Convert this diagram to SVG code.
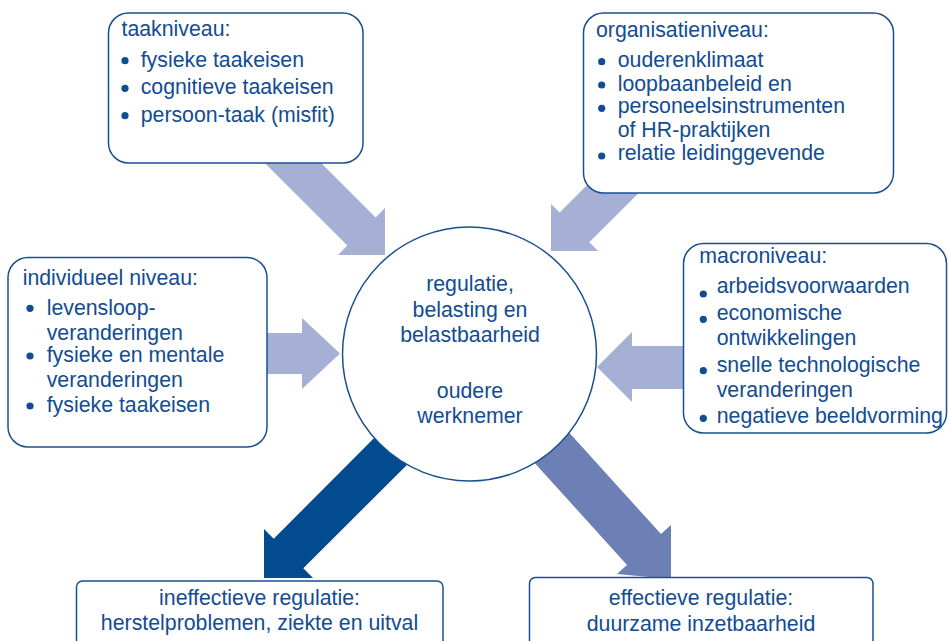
<svg xmlns="http://www.w3.org/2000/svg" width="948" height="641" viewBox="0 0 948 641">
<style>
.box{fill:#fff;stroke:#1a4f92;stroke-width:1.5}
.t{font-family:"Liberation Sans",Arial,Helvetica,sans-serif;font-size:21.3px;fill:#124c92}
.c{text-anchor:middle}
.b{fill:#124c92}
.light{fill:#a6afd4}
.dark{fill:#024b8e}
.mid{fill:#6c80b6}
</style>
<rect width="948" height="641" fill="#fff"/>
<g id="connectors">
<polygon class="light" points="269.6,111.4 375.6,217.4 385,208 385,255 338,255 347.4,245.6 241.4,139.6"/>
<polygon class="light" points="695.4,136.4 589.3,242.3 598,251 551,251 551,204 559.6,212.6 665.6,106.6"/>
<polygon class="light" points="240,333 302,333 302,318 340,353.5 302,389 302,374 240,374"/>
<polygon class="light" points="710,346 632,346 632,332 597,367 632,402 632,389 710,389"/>
<polygon class="dark" points="409.4,462.4 303.3,568.3 313,578 264,578 264,529 273.7,538.7 379.6,432.6"/>
<polygon class="mid" points="560.5,423.1 661,534.1 671,525 671,579 617,574 627,564.9 526.5,453.9"/>
</g>
<g id="taakniveau">
<rect class="box" x="108.5" y="13" width="254.5" height="150" rx="20"/>
<text class="t" x="121.5" y="36">taakniveau:</text>
<circle class="b" cx="125" cy="60.7" r="3.6"/>
<circle class="b" cx="125" cy="88.3" r="3.6"/>
<circle class="b" cx="125" cy="115.7" r="3.6"/>
<text class="t" x="140.7" y="66.7">fysieke taakeisen</text>
<text class="t" x="140.7" y="94.3">cognitieve taakeisen</text>
<text class="t" x="140.7" y="121.7">persoon-taak (misfit)</text>
</g>
<g id="organisatieniveau">
<rect class="box" x="583.5" y="13" width="310" height="180" rx="20"/>
<text class="t" x="596" y="37.3">organisatieniveau:</text>
<circle class="b" cx="601.7" cy="61.7" r="3.6"/>
<circle class="b" cx="601.7" cy="85" r="3.6"/>
<circle class="b" cx="601.7" cy="108.3" r="3.6"/>
<circle class="b" cx="601.7" cy="156" r="3.6"/>
<text class="t" x="617.7" y="66.7">ouderenklimaat</text>
<text class="t" x="617.7" y="90.7">loopbaanbeleid en</text>
<text class="t" x="617.7" y="113.3">personeelsinstrumenten</text>
<text class="t" x="617.7" y="137.3">of HR-praktijken</text>
<text class="t" x="617.7" y="160">relatie leidinggevende</text>
</g>
<g id="individueel">
<rect class="box" x="8" y="257.5" width="259" height="189.5" rx="20"/>
<text class="t" x="22.7" y="285">individueel niveau:</text>
<circle class="b" cx="30" cy="308.3" r="3.6"/>
<circle class="b" cx="30" cy="356" r="3.6"/>
<circle class="b" cx="30" cy="406" r="3.6"/>
<text class="t" x="46.7" y="315">levensloop-</text>
<text class="t" x="46.7" y="339.5">veranderingen</text>
<text class="t" x="46.7" y="362">fysieke en mentale</text>
<text class="t" x="46.7" y="387.3">veranderingen</text>
<text class="t" x="46.7" y="412">fysieke taakeisen</text>
</g>
<g id="macroniveau">
<rect class="box" x="683.5" y="243.5" width="263" height="189.5" rx="20"/>
<text class="t" x="699.3" y="263.3">macroniveau:</text>
<circle class="b" cx="703.3" cy="294" r="3.6"/>
<circle class="b" cx="703.3" cy="319.3" r="3.6"/>
<circle class="b" cx="703.3" cy="370.7" r="3.6"/>
<circle class="b" cx="703.3" cy="418.3" r="3.6"/>
<text class="t" x="716.7" y="293.3">arbeidsvoorwaarden</text>
<text class="t" x="716.7" y="320">economische</text>
<text class="t" x="716.7" y="345">ontwikkelingen</text>
<text class="t" x="716.7" y="371.7">snelle technologische</text>
<text class="t" x="716.7" y="396.7">veranderingen</text>
<text class="t" x="716.7" y="423.3">negatieve beeldvorming</text>
</g>
<g id="centrum">
<circle cx="469.5" cy="354" r="127" fill="#fff" stroke="#1a4f92" stroke-width="1.5"/>
<text class="t c" x="470" y="291">regulatie,</text>
<text class="t c" x="470" y="316.5">belasting en</text>
<text class="t c" x="470" y="341.5">belastbaarheid</text>
<text class="t c" x="470" y="398.3">oudere</text>
<text class="t c" x="470" y="423.3">werknemer</text>
</g>
<g id="ineffectief">
<rect class="box" x="76.5" y="581" width="366.5" height="75" rx="6"/>
<text class="t c" x="259.5" y="605">ineffectieve regulatie:</text>
<text class="t c" x="259.5" y="630">herstelproblemen, ziekte en uitval</text>
</g>
<g id="effectief">
<rect class="box" x="529.5" y="577.5" width="343.5" height="78" rx="6"/>
<text class="t c" x="701" y="605">effectieve regulatie:</text>
<text class="t c" x="701" y="631">duurzame inzetbaarheid</text>
</g>
</svg>
